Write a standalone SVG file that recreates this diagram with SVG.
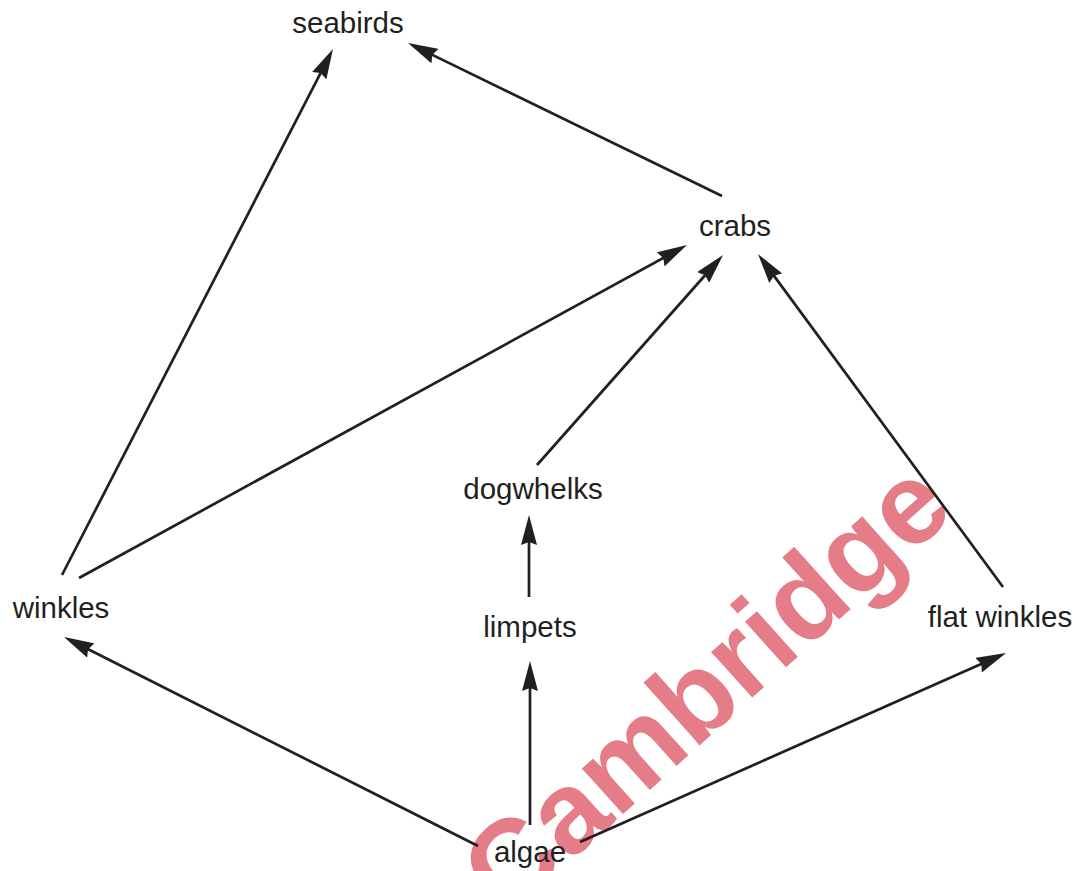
<svg xmlns="http://www.w3.org/2000/svg" width="1081" height="871" viewBox="0 0 1081 871">
  <defs>
    <style>
      .label { font-family: "Liberation Sans", Arial, sans-serif; font-size: 29.5px; fill: #231f20; text-anchor: middle; }
      .link { stroke: #231f20; stroke-width: 2.7; fill: none; marker-end: url(#head); }
      .mark { font-family: "Liberation Sans", Arial, sans-serif; font-weight: bold; font-size: 116px; fill: #e47d87; text-anchor: middle; }
    </style>
    <marker id="head" viewBox="0 0 30 16" refX="20" refY="8" markerWidth="30" markerHeight="16" markerUnits="userSpaceOnUse" orient="auto">
      <path d="M0,0 L30,8 L0,16 L3,8 Z" fill="#231f20"/>
    </marker>
  </defs>

  <rect width="1081" height="871" fill="#ffffff"/>

  <!-- watermark -->
  <text class="mark" x="732" y="716" transform="rotate(-42 732 716)">Cambridge</text>

  <!-- feeding links -->
  <g id="connectors">
    <line class="link" x1="62" y1="575" x2="328.4" y2="57.9"/>
    <line class="link" x1="722" y1="196" x2="417" y2="47.4"/>
    <line class="link" x1="79" y1="578" x2="678.2" y2="249.8"/>
    <line class="link" x1="537" y1="465" x2="716.4" y2="262.5"/>
    <line class="link" x1="1003" y1="587" x2="763.9" y2="262.1"/>
    <line class="link" x1="529" y1="597" x2="529" y2="525"/>
    <line class="link" x1="530" y1="825" x2="530" y2="671"/>
    <line class="link" x1="478" y1="846" x2="72.9" y2="641.5"/>
    <line class="link" x1="580" y1="842" x2="996.9" y2="657.1"/>
  </g>

  <!-- organisms -->
  <g id="seabirds"><text class="label" x="348" y="33">seabirds</text></g>
  <g id="crabs"><text class="label" x="735" y="236">crabs</text></g>
  <g id="dogwhelks"><text class="label" x="533" y="499">dogwhelks</text></g>
  <g id="winkles"><text class="label" x="61" y="618">winkles</text></g>
  <g id="limpets"><text class="label" x="530" y="637">limpets</text></g>
  <g id="flat-winkles"><text class="label" x="1000" y="627">flat winkles</text></g>
  <g id="algae"><text class="label" x="530" y="862">algae</text></g>
</svg>
